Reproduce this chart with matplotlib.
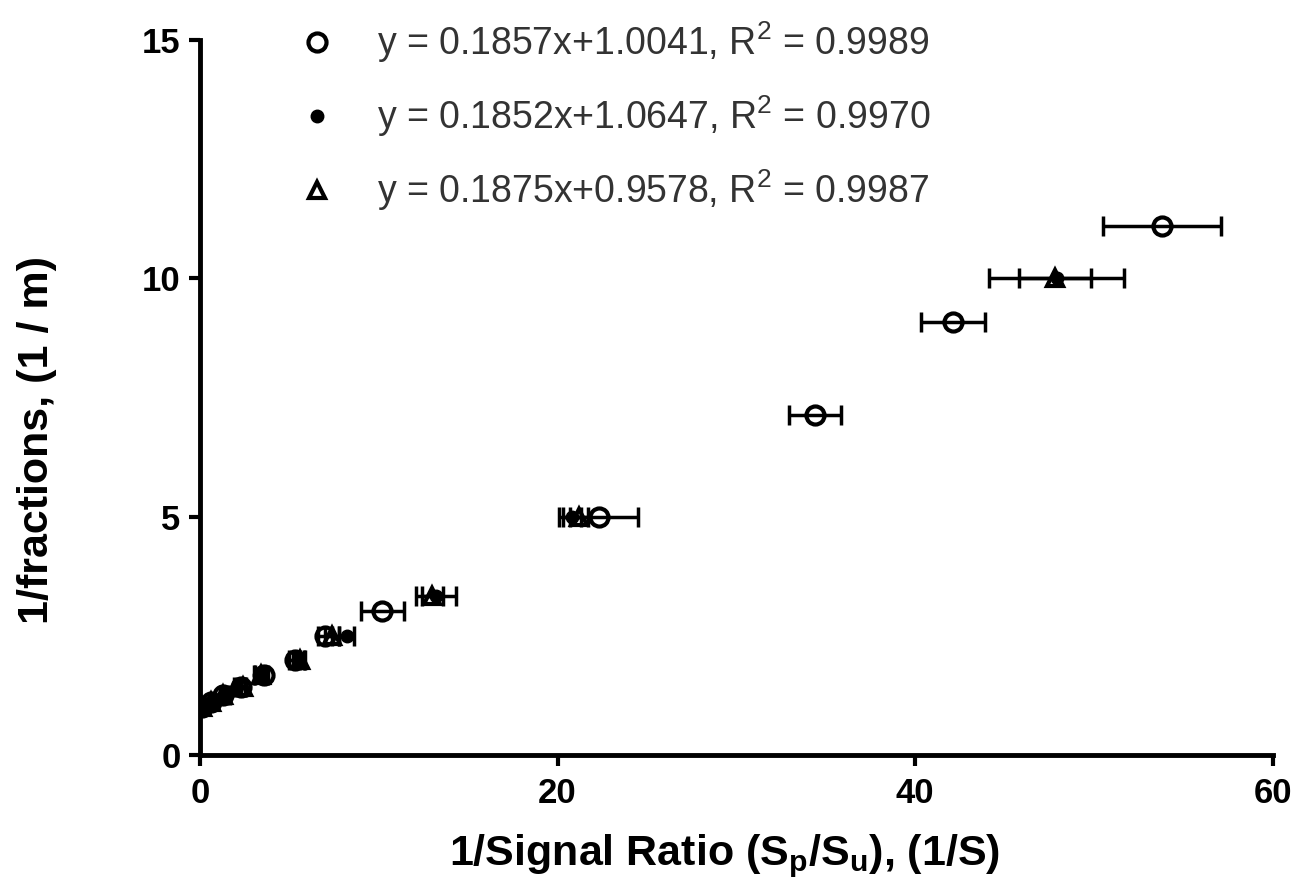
import matplotlib
matplotlib.use("Agg")
import matplotlib.pyplot as plt
from matplotlib.lines import Line2D

plt.rcParams['font.family'] = ['Liberation Sans', 'DejaVu Sans']
plt.rcParams['mathtext.fontset'] = 'custom'
plt.rcParams['mathtext.rm'] = 'Liberation Sans'
plt.rcParams['mathtext.bf'] = 'Liberation Sans:bold'
plt.rcParams['mathtext.default'] = 'regular'

# open circles
circ_x = [0.1, 0.6, 1.3, 2.3, 3.6, 5.3, 7.0, 10.2, 22.3, 34.4, 42.1, 53.8]
circ_y = [1.0, 1.11, 1.25, 1.43, 1.67, 2.0, 2.5, 3.03, 5.0, 7.14, 9.09, 11.11]
circ_err = [0.1, 0.1, 0.1, 0.2, 0.2, 0.3, 0.4, 1.2, 2.2, 1.45, 1.8, 3.3]

# filled
fill_x = [0.2, 0.7, 1.5, 2.1, 3.3, 5.5, 8.2, 13.2, 20.8, 47.9]
fill_y = [1.0, 1.11, 1.25, 1.43, 1.67, 2.0, 2.5, 3.33, 5.0, 10.0]
fill_err = [0.1, 0.1, 0.2, 0.2, 0.3, 0.3, 0.4, 1.1, 0.5, 3.8]

# open triangles
tri_x = [0.1, 0.6, 1.3, 2.4, 3.4, 5.6, 7.4, 13.0, 21.2, 47.8]
tri_y = [1.0, 1.11, 1.25, 1.43, 1.67, 2.0, 2.5, 3.33, 5.0, 10.0]
tri_err = [0.1, 0.1, 0.2, 0.2, 0.3, 0.3, 0.4, 0.6, 0.5, 2.0]

labels = ["y = 0.1857x+1.0041, R$^2$ = 0.9989",
          "y = 0.1852x+1.0647, R$^2$ = 0.9970",
          "y = 0.1875x+0.9578, R$^2$ = 0.9987"]

fig = plt.figure(figsize=(13.15, 8.93), dpi=100)
ax = fig.add_axes([0.152, 0.1545, 0.816, 0.8005])

ekw = dict(fmt='none', ecolor='black', elinewidth=2.5, capsize=7, capthick=2.5)
ax.errorbar(circ_x, circ_y, xerr=circ_err, **ekw)
ax.errorbar(fill_x, fill_y, xerr=fill_err, **ekw)
ax.errorbar(tri_x, tri_y, xerr=tri_err, **ekw)

ax.plot(circ_x, circ_y, 'o', ms=13, mfc='none', mec='black', mew=3)
ax.plot(fill_x, fill_y, 'o', ms=9, mfc='black', mec='black')
ax.plot(tri_x, tri_y, '^', ms=12, mfc='none', mec='black', mew=3)

ax.set_xlim(0, 60)
ax.set_ylim(0, 15)
ax.set_xticks([0, 20, 40, 60])
ax.set_yticks([0, 5, 10, 15])
for s in ['top', 'right']:
    ax.spines[s].set_visible(False)
for s in ['left', 'bottom']:
    ax.spines[s].set_linewidth(3.5)
ax.tick_params(width=3, length=8, direction='out')
ax.tick_params(axis='x', labelsize=25, pad=8)
ax.tick_params(axis='y', labelsize=25, pad=6)
for t in ax.get_xticklabels() + ax.get_yticklabels():
    t.set_fontweight('bold')

ax.set_xlabel(r'1/Signal Ratio (S$_\mathbf{p}$/S$_\mathbf{u}$), (1/S)',
              fontsize=31, fontweight='bold')
ax.set_ylabel('1/fractions, (1 / m)', fontsize=31, fontweight='bold')
ax.xaxis.set_label_coords(0.489, -0.108)
ax.yaxis.set_label_coords(-0.133, 0.44)

handles = [Line2D([], [], ls='none', marker='o', ms=13, mfc='none', mec='black', mew=3),
           Line2D([], [], ls='none', marker='o', ms=9, mfc='black', mec='black'),
           Line2D([], [], ls='none', marker='^', ms=12, mfc='none', mec='black', mew=3)]
leg = ax.legend(handles, labels, loc='upper left', bbox_to_anchor=(0.067, 1.055),
                frameon=False, fontsize=27, handletextpad=0.9, labelspacing=0.75,
                handlelength=1.4, borderpad=0.0)
for t in leg.get_texts():
    t.set_color('#333333')

fig.savefig('out.png', dpi=100)
